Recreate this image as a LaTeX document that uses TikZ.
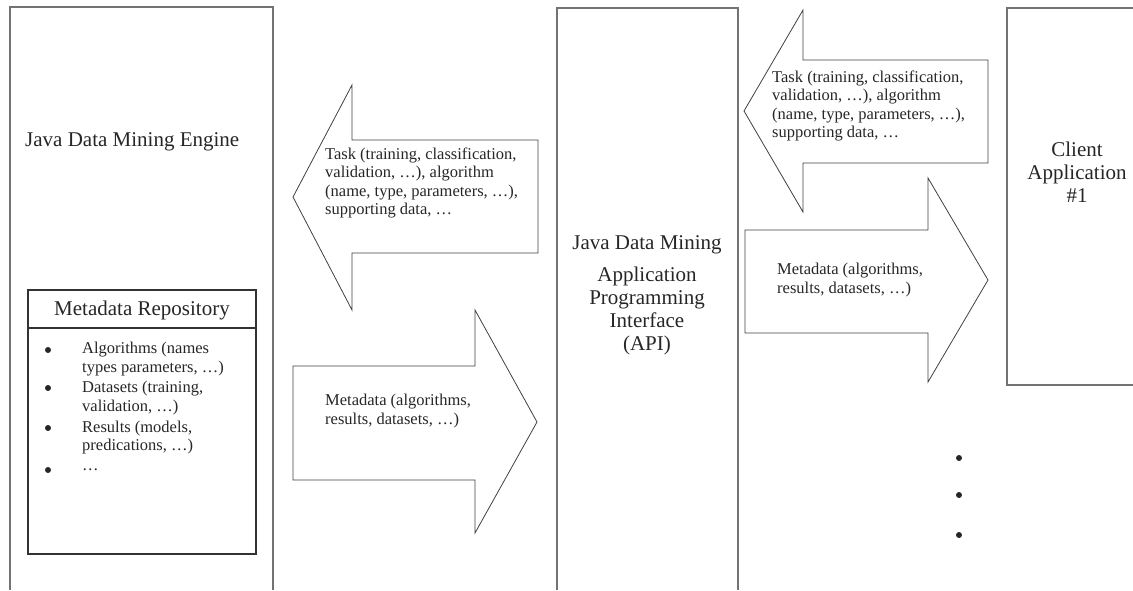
\documentclass[tikz,border=0pt]{standalone}
\usepackage{fontspec}
\setmainfont{Liberation Serif}
\usetikzlibrary{positioning}

\begin{document}
\begin{tikzpicture}[
        x=1pt, y=-1pt,
        bigtag/.style={align=center, inner sep=0pt, font=\fontsize{21}{23}\selectfont\color{black!85}},
        smalltag/.style={align=left, inner sep=0pt, anchor=west, font=\fontsize{16.5}{18.5}\selectfont\color{black!85}},
        frame/.style={draw=black!55, line width=1.2pt},
        repo/.style={draw=black!80, line width=1.5pt},
        blockarrow/.style={draw=black!75, line width=0.8pt, line join=miter},
        dot/.style={circle, fill=black!85, inner sep=0pt, minimum size=6pt}
      ]
      \useasboundingbox (0,0) rectangle (1133,590);

      % engine, api and client frames (open at the page edge)
      \draw[frame] (10,590) |- (273,7) -- (273,590);
      \draw[frame] (557,590) |- (738,8) -- (738,590);
      \draw[frame] (1133,8) -| (1007,385) -- (1133,385);

      \node (eng) [bigtag, anchor=west] at (25,142) {Java Data Mining Engine};

      % metadata repository
      \draw[repo] (28,290) rectangle (256,554);
      \draw[repo] (28,328) -- (256,328);
      \node (mrt) [bigtag] at (142,310) {Metadata Repository};
      \foreach \by/\ty/\txt [count=\i] in {350/359/{Algorithms (names\\types parameters, \ldots)},
                                         388/398/{Datasets (training,\\validation, \ldots)},
                                         428/437.5/{Results (models,\\predications, \ldots)},
                                         470/470/{\ldots}} {
        \node (b\i) [dot] at (48,\by) {};
        \node (it\i) [smalltag] at (82,\ty) {\txt};
      }

      % block arrows between engine and api
      \draw[blockarrow] (293,197) -- (352,85) -- (352,140) -- (538,140) -- (538,253) -- (352,253) -- (352,310) -- cycle;
      \draw[blockarrow] (293,366) -- (475,366) -- (475,310) -- (537,422) -- (475,533) -- (475,480) -- (293,480) -- cycle;
      \node (tk1) [smalltag] at (325,183) {Task (training, classification,\\validation, \ldots), algorithm\\(name, type, parameters, \ldots),\\supporting data, \ldots};
      \node (md1) [smalltag] at (325,411) {Metadata (algorithms,\\results, datasets, \ldots)};

      % api
      \node (api) [bigtag] at (647,245) {Java Data Mining};
      \node (apil) [bigtag, below=12pt of api] {Application\\Programming\\Interface\\(API)};

      % block arrows between api and client
      \draw[blockarrow] (744,111) -- (803,10) -- (803,60) -- (988,60) -- (988,163) -- (803,163) -- (803,212) -- cycle;
      \draw[blockarrow] (745,230) -- (928,230) -- (928,178) -- (988,280) -- (928,382) -- (928,333) -- (745,333) -- cycle;
      \node (tk2) [smalltag] at (772,106) {Task (training, classification,\\validation, \ldots), algorithm\\(name, type, parameters, \ldots),\\supporting data, \ldots};
      \node (md2) [smalltag] at (777,280) {Metadata (algorithms,\\results, datasets, \ldots)};

      % client
      \node (cl) [bigtag] at (1077,172) {Client\\Application\\\#1};
      \foreach \y [count=\i] in {458,495,535}
        \node (d\i) [dot] at (959,\y) {};

    \end{tikzpicture}
\end{document}
